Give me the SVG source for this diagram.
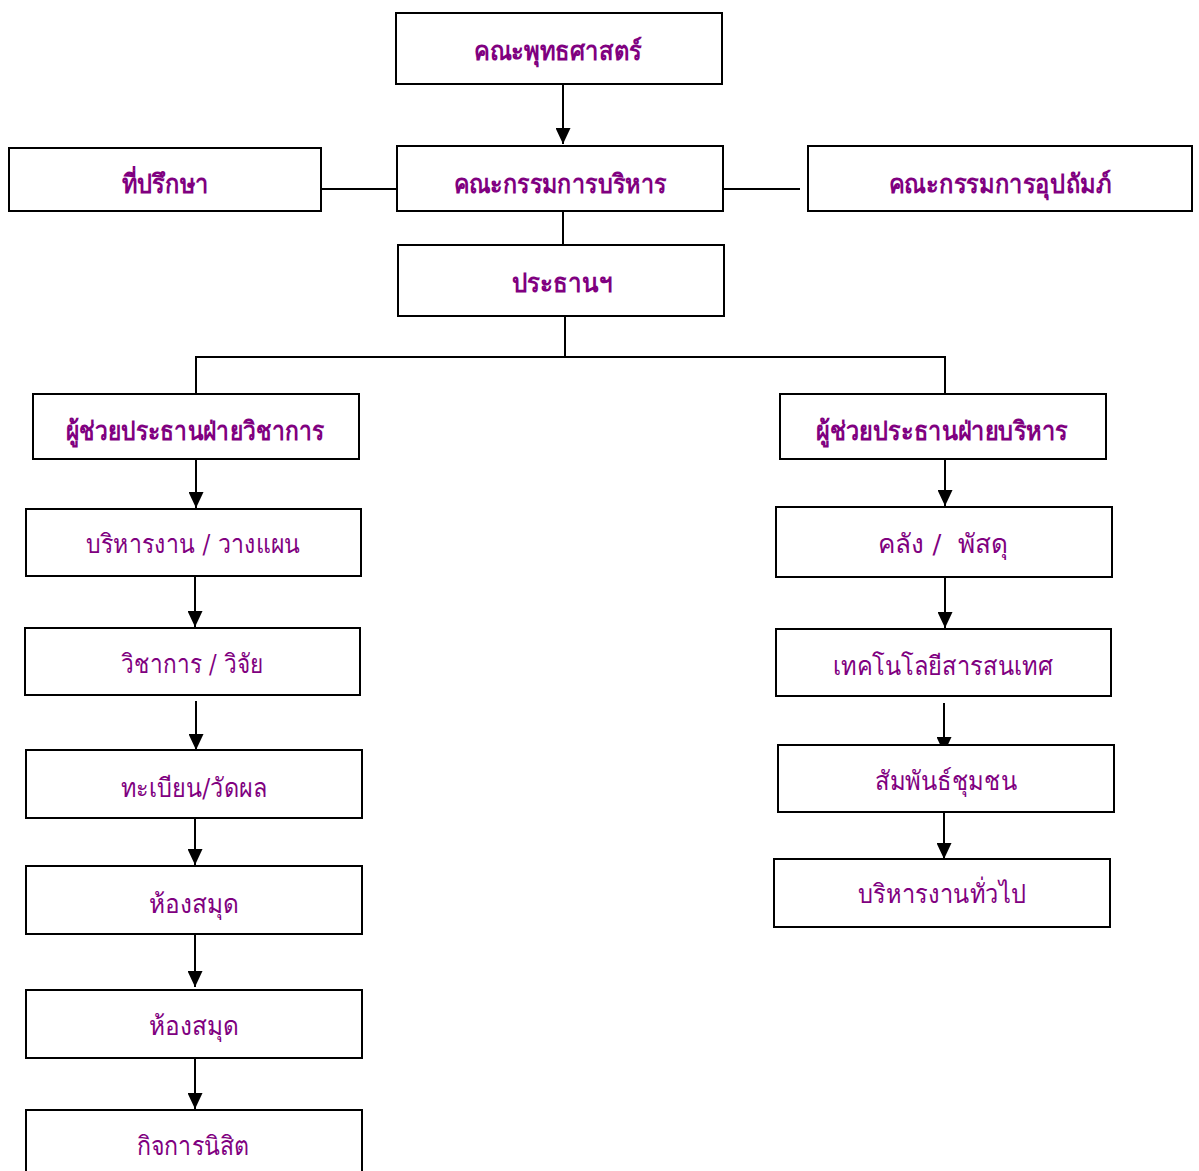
<svg xmlns="http://www.w3.org/2000/svg" width="1199" height="1171" viewBox="0 0 1199 1171">
<defs>
<marker id="arr" markerUnits="userSpaceOnUse" markerWidth="16" markerHeight="15" refX="16" refY="7.5" orient="auto" viewBox="0 0 16 15">
<path d="M0,0 L16,7.5 L0,15 Z" fill="#000"/>
</marker>
<style>
.box{fill:#fff;stroke:#000;stroke-width:2}
.t{font-family:"DejaVu Serif","Liberation Serif",serif;fill:#800080;text-anchor:middle;font-size:26px}
.b{font-weight:bold}
.c{fill:none;stroke:#000;stroke-width:2}
</style>
</defs>
<g id="connectors">
<line class="c" x1="563" y1="84" x2="563" y2="144" marker-end="url(#arr)"/>
<line class="c" x1="319" y1="189" x2="397" y2="189"/>
<line class="c" x1="723" y1="189" x2="800" y2="189"/>
<line class="c" x1="563" y1="211" x2="563" y2="245"/>
<polyline class="c" points="565,316 565,357"/>
<polyline class="c" points="196,394 196,357 945,357 945,394"/>
<line class="c" x1="196" y1="459" x2="196" y2="508" marker-end="url(#arr)"/>
<line class="c" x1="195" y1="576" x2="195" y2="627" marker-end="url(#arr)"/>
<line class="c" x1="196" y1="701" x2="196" y2="750" marker-end="url(#arr)"/>
<line class="c" x1="195" y1="818" x2="195" y2="865" marker-end="url(#arr)"/>
<line class="c" x1="195" y1="934" x2="195" y2="987" marker-end="url(#arr)"/>
<line class="c" x1="195" y1="1058" x2="195" y2="1109" marker-end="url(#arr)"/>
<line class="c" x1="945" y1="459" x2="945" y2="506" marker-end="url(#arr)"/>
<line class="c" x1="945" y1="577" x2="945" y2="628" marker-end="url(#arr)"/>
<line class="c" x1="944" y1="703" x2="944" y2="753" marker-end="url(#arr)"/>
<line class="c" x1="944" y1="812" x2="944" y2="859" marker-end="url(#arr)"/>
</g>
<g id="n1"><rect class="box" x="396" y="13" width="326" height="71"/><text class="t b" x="558" y="60" textLength="168" lengthAdjust="spacingAndGlyphs">คณะพุทธศาสตร์</text></g>
<g id="n2"><rect class="box" x="397" y="146" width="326" height="65"/><text class="t b" x="560" y="193" textLength="213" lengthAdjust="spacingAndGlyphs">คณะกรรมการบริหาร</text></g>
<g id="n3"><rect class="box" x="9" y="148" width="312" height="63"/><text class="t b" x="165" y="193" textLength="87" lengthAdjust="spacingAndGlyphs">ที่ปรึกษา</text></g>
<g id="n4"><rect class="box" x="808" y="146" width="384" height="65"/><text class="t b" x="1000" y="193" textLength="222" lengthAdjust="spacingAndGlyphs">คณะกรรมการอุปถัมภ์</text></g>
<g id="n5"><rect class="box" x="398" y="245" width="326" height="71"/><text class="t b" x="562" y="292" textLength="101" lengthAdjust="spacingAndGlyphs">ประธานฯ</text></g>
<g id="n6"><rect class="box" x="33" y="394" width="326" height="65"/><text class="t b" x="195" y="440" textLength="258" lengthAdjust="spacingAndGlyphs">ผู้ช่วยประธานฝ่ายวิชาการ</text></g>
<g id="n7"><rect class="box" x="780" y="394" width="326" height="65"/><text class="t b" x="942" y="440" textLength="252" lengthAdjust="spacingAndGlyphs">ผู้ช่วยประธานฝ่ายบริหาร</text></g>
<g id="n8"><rect class="box" x="26" y="509" width="335" height="67"/><text class="t" x="193" y="553" textLength="214" lengthAdjust="spacingAndGlyphs">บริหารงาน / วางแผน</text></g>
<g id="n9"><rect class="box" x="25" y="628" width="335" height="67"/><text class="t" x="192" y="673" textLength="142" lengthAdjust="spacingAndGlyphs">วิชาการ / วิจัย</text></g>
<g id="n10"><rect class="box" x="26" y="750" width="336" height="68"/><text class="t" x="194" y="797" textLength="146" lengthAdjust="spacingAndGlyphs">ทะเบียน/วัดผล</text></g>
<g id="n11"><rect class="box" x="26" y="866" width="336" height="68"/><text class="t" x="194" y="913" textLength="90" lengthAdjust="spacingAndGlyphs">ห้องสมุด</text></g>
<g id="n12"><rect class="box" x="26" y="990" width="336" height="68"/><text class="t" x="194" y="1035" textLength="90" lengthAdjust="spacingAndGlyphs">ห้องสมุด</text></g>
<g id="n13"><rect class="box" x="26" y="1110" width="336" height="70"/><text class="t" x="193" y="1155" textLength="113" lengthAdjust="spacingAndGlyphs">กิจการนิสิต</text></g>
<g id="n14"><rect class="box" x="776" y="507" width="336" height="70"/><text class="t" x="943" y="553" textLength="130" lengthAdjust="spacingAndGlyphs" xml:space="preserve">คลัง /  พัสดุ</text></g>
<g id="n15"><rect class="box" x="776" y="629" width="335" height="67"/><text class="t" x="943" y="675" textLength="220" lengthAdjust="spacingAndGlyphs">เทคโนโลยีสารสนเทศ</text></g>
<g id="n16"><rect class="box" x="778" y="745" width="336" height="67"/><text class="t" x="946" y="790" textLength="142" lengthAdjust="spacingAndGlyphs">สัมพันธ์ชุมชน</text></g>
<g id="n17"><rect class="box" x="774" y="859" width="336" height="68"/><text class="t" x="942" y="903" textLength="168" lengthAdjust="spacingAndGlyphs">บริหารงานทั่วไป</text></g>
</svg>
